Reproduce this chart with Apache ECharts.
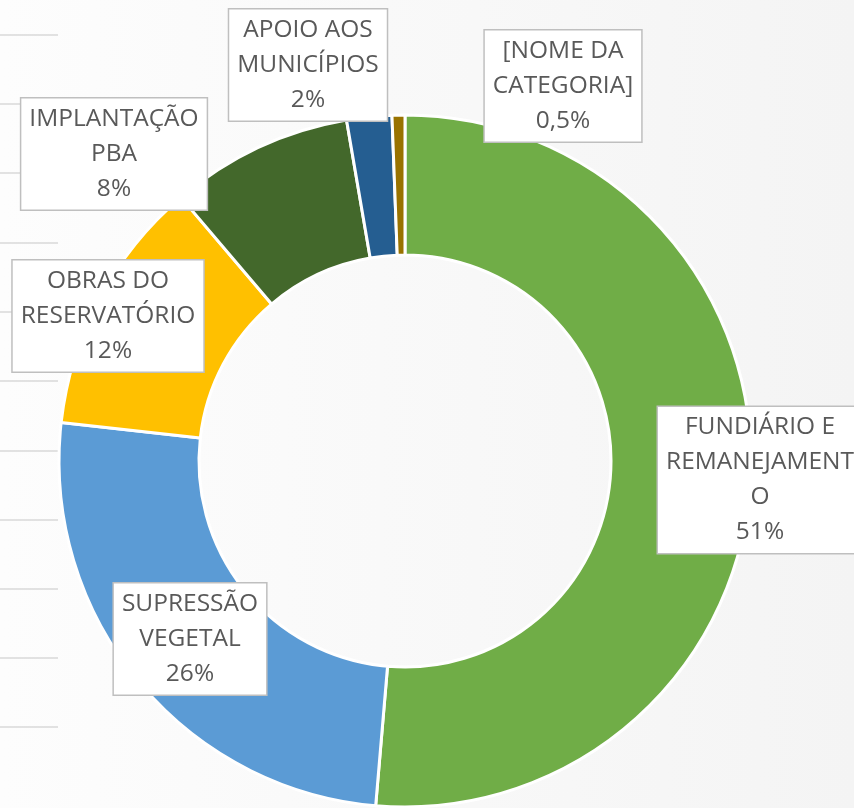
<!DOCTYPE html>
<html>
<head>
<meta charset="utf-8">
<script src="https://cdn.jsdelivr.net/npm/echarts@6/dist/echarts.min.js"></script>
<style>
  html, body { margin: 0; padding: 0; }
  #chart { width: 854px; height: 808px; }
</style>
</head>
<body>
<div id="chart"></div>
<script>
// slices in clockwise order from 12 o'clock
const categories = [
  "FUNDIÁRIO E\nREMANEJAMENT\nO",
  "SUPRESSÃO\nVEGETAL",
  "OBRAS DO\nRESERVATÓRIO",
  "IMPLANTAÇÃO\nPBA",
  "APOIO AOS\nMUNICÍPIOS",
  "[NOME DA\nCATEGORIA]"
];
// slice sizes
const shares = [51.3, 25.4, 12.0, 8.5, 2.1, 0.6];
// percentages as printed in the labels
const pctLabels = ["51%", "26%", "12%", "8%", "2%", "0,5%"];
const colors = ["#70AD47", "#5B9BD5", "#FFC000", "#43682B", "#255E91", "#997300"];

// label box centres (layout only)
const labelPos = [
  [760, 480], [190, 639], [108, 316], [114, 154], [308, 65], [563, 86]
];
// faint rules at the left edge of the slide
const ruleYs = [35, 104, 173, 243, 312, 381, 451, 520, 589, 658, 727];

const chart = echarts.init(document.getElementById("chart"));

const options = {
  backgroundColor: {
    type: "linear", x: 0, y: 0, x2: 1, y2: 0,
    colorStops: [
      { offset: 0, color: "#fdfdfd" },
      { offset: 1, color: "#f4f4f4" }
    ]
  },
  graphic: ruleYs.map(y => ({
    type: "line",
    shape: { x1: 0, y1: y, x2: 58, y2: y },
    style: { stroke: "#d9d9d9", lineWidth: 1.5 },
    z: -1
  })),
  series: [
    {
      type: "pie",
      center: [405, 461],
      radius: [206, 346],
      startAngle: 90,
      clockwise: true,
      avoidLabelOverlap: false,
      data: categories.map((name, i) => ({
        name,
        value: shares[i],
        itemStyle: { color: colors[i] }
      })),
      itemStyle: { borderColor: "#ffffff", borderWidth: 3 },
      label: {
        show: true,
        position: "outside",
        formatter: p => p.name + "\n" + pctLabels[p.dataIndex],
        fontFamily: "Open Sans",
        fontSize: 24.5,
        lineHeight: 35,
        color: "#595959",
        align: "center",
        backgroundColor: "#ffffff",
        borderColor: "#bfbfbf",
        borderWidth: 1.5,
        padding: [3, 8, 3, 8]
      },
      labelLine: { show: false },
      labelLayout: p => ({
        x: labelPos[p.dataIndex][0],
        y: labelPos[p.dataIndex][1],
        align: "center",
        verticalAlign: "middle"
      }),
      emphasis: { disabled: true }
    }
  ]
};

chart.setOption(options);
</script>
</body>
</html>
